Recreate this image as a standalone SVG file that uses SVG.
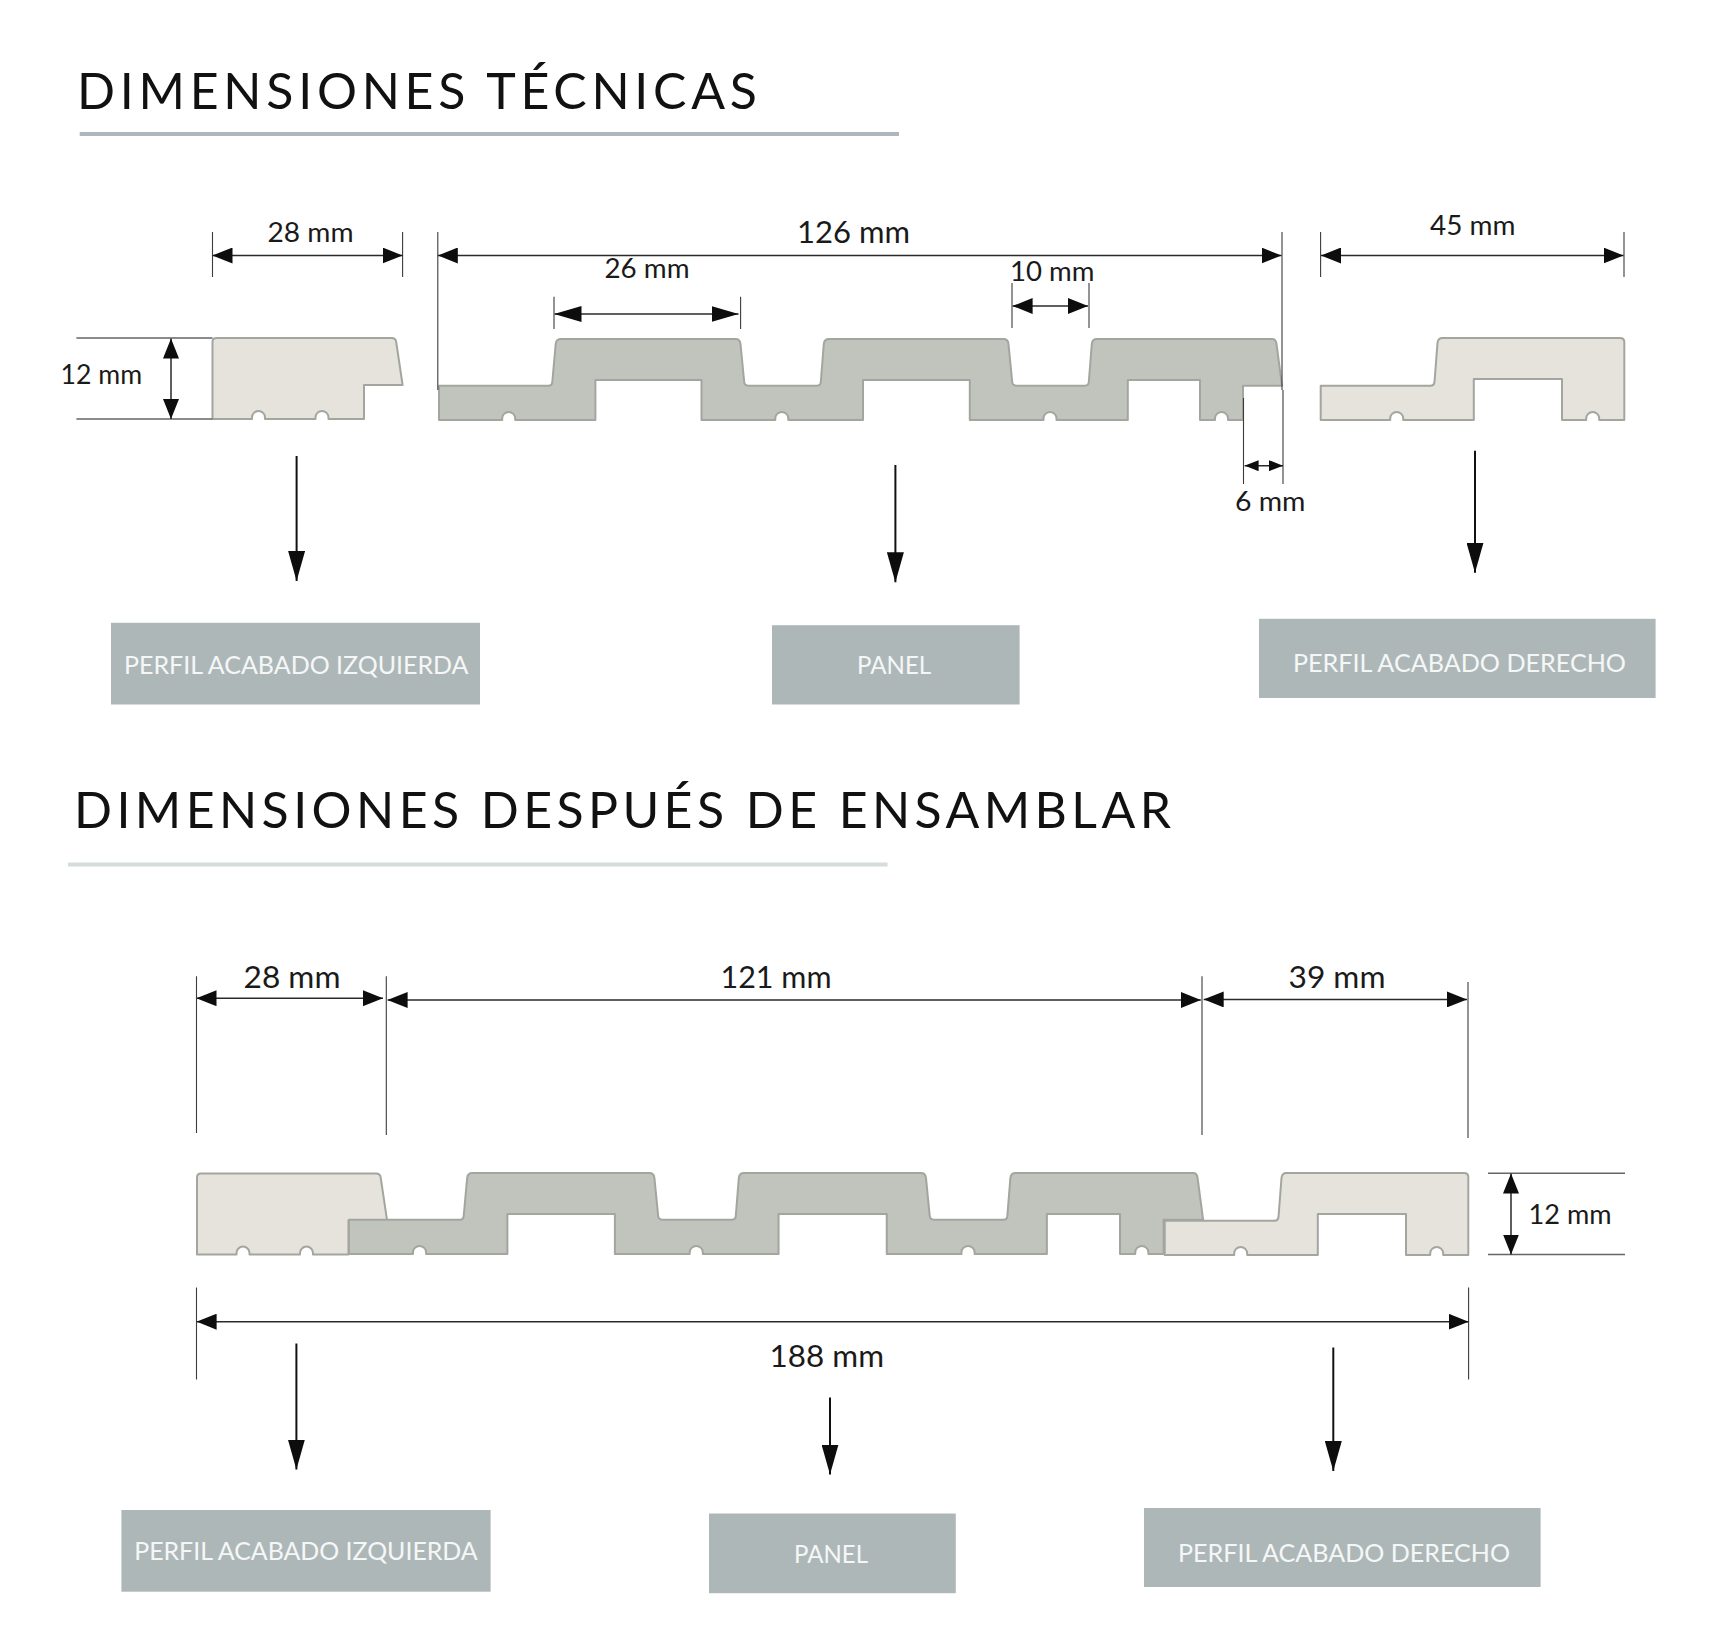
<svg xmlns="http://www.w3.org/2000/svg" xmlns:xlink="http://www.w3.org/1999/xlink" width="1719" height="1636" viewBox="0 0 1719 1636">
<style>
text{font-family:"Lato","Noto Sans",sans-serif;fill:#1a1a1a}
.title{font-size:50px;fill:#111}
.s{font-size:26px}
.l{font-size:30px}
.box{fill:#aeb7b8}
.lab{font-size:25px;fill:#f5f7f7}
.pf{stroke:#a3a69f;stroke-width:2;stroke-linejoin:round}
.light{fill:#e6e3dd}
.grey{fill:#c1c4bd}
.ext{stroke:#3c3c3c;stroke-width:1.1;fill:none}
.hz{stroke:#666;stroke-width:1.5;fill:none}
.dim{stroke:#2a2a2a;stroke-width:1.5;fill:none;marker-start:url(#h);marker-end:url(#h)}
.dimL{stroke:#2a2a2a;stroke-width:1.5;fill:none;marker-start:url(#hl);marker-end:url(#hl)}
.dimS{stroke:#2a2a2a;stroke-width:1.5;fill:none;marker-start:url(#hs);marker-end:url(#hs)}
.down{stroke:#111;stroke-width:2;fill:none;marker-end:url(#hd)}
</style>
<defs>
<marker id="h" markerUnits="userSpaceOnUse" markerWidth="20" markerHeight="16" refX="20" refY="8" orient="auto-start-reverse"><path d="M0 0L20 8L0 16Z" fill="#0d0d0d"/></marker>
<marker id="hl" markerUnits="userSpaceOnUse" markerWidth="27" markerHeight="16" refX="27" refY="8" orient="auto-start-reverse"><path d="M0 0L27 8L0 16Z" fill="#0d0d0d"/></marker>
<marker id="hs" markerUnits="userSpaceOnUse" markerWidth="14" markerHeight="11" refX="14" refY="5.5" orient="auto-start-reverse"><path d="M0 0L14 5.5L0 11Z" fill="#0d0d0d"/></marker>
<marker id="hd" markerUnits="userSpaceOnUse" markerWidth="30" markerHeight="17" refX="30" refY="8.5" orient="auto"><path d="M0 0L30 8.5L0 17Z" fill="#0d0d0d"/></marker>
<path id="pLeft" d="M212.5 419V342Q212.5 338 216.5 338H391.5Q395.7 338 396.2 342L402.6 385H364V419H328.5V417.5A6.5 6.5 0 0 0 315.5 417.5V419H265V417.5A6.5 6.5 0 0 0 252 417.5V419H212.5Z"/>
<path id="pPanel" d="M439 420V385.7H549Q552 385.7 552.3 382L555.7 344Q556.2 339 561 339H735.5Q740 339 740.5 344L744.2 382Q744.5 385.7 748.5 385.7H817Q820.5 385.7 820.8 382L823.8 344Q824.3 339 829 339H1003.5Q1008 339 1008.5 344L1012.2 382Q1012.5 385.7 1016.5 385.7H1085Q1088.5 385.7 1088.8 382L1091.8 344Q1092.3 339 1097 339H1272Q1276 339 1276.5 344L1282 385.7H1243V420H1228V418.5A6.5 6.5 0 0 0 1215 418.5V420H1200V380H1127.8V420H1056.5V418.5A6.5 6.5 0 0 0 1043.5 418.5V420H969.8V380H863V420H788.3V418.5A6.5 6.5 0 0 0 775.3 418.5V420H701.5V380H595.4V420H515.2V418.5A6.5 6.5 0 0 0 502.2 418.5V420H439Z"/>
<path id="pRight" d="M1320.7 420V385.7H1430.5Q1434 385.7 1434.5 382L1437.5 343Q1438 338 1442.5 338H1620Q1624.3 338 1624.3 342V420H1599.2V418.5A6.5 6.5 0 0 0 1586.2 418.5V420H1562V379H1473.8V420H1403.2V418.5A6.5 6.5 0 0 0 1390.2 418.5V420H1320.7Z"/>
</defs>
<rect width="1719" height="1636" fill="#fff"/>

<g id="title-tecnicas">
<text class="title" x="77" y="109" textLength="680">DIMENSIONES TÉCNICAS</text>
<rect x="79.7" y="132" width="819.3" height="4" fill="#b0b7bc"/>
</g>
<g id="title-ensamblar">
<text class="title" x="74" y="828.3" textLength="1097">DIMENSIONES DESPUÉS DE ENSAMBLAR</text>
<rect x="68" y="862.5" width="819.6" height="4" fill="#d4dcdc"/>
</g>

<g id="profile-left-top"><use href="#pLeft" class="pf light"/></g>
<g id="panel-top"><use href="#pPanel" class="pf grey"/></g>
<g id="profile-right-top"><use href="#pRight" class="pf light"/></g>

<g id="profile-left-bottom"><use href="#pLeft" class="pf light" transform="translate(-15.5 835.6)"/></g>
<g id="panel-bottom"><use href="#pPanel" class="pf grey" transform="translate(348.4 834) scale(1.0133 1) translate(-438.5 0)"/></g>
<g id="profile-right-bottom"><use href="#pRight" class="pf light" transform="translate(-156 835)"/></g>

<g id="label-left-top"><rect class="box" x="111" y="622.8" width="369" height="81.7"/><text class="lab" x="124" y="674" textLength="344.5" lengthAdjust="spacingAndGlyphs">PERFIL ACABADO IZQUIERDA</text></g>
<g id="label-panel-top"><rect class="box" x="772" y="625.2" width="247.6" height="79.3"/><text class="lab" x="857" y="674.3" textLength="74.2" lengthAdjust="spacingAndGlyphs">PANEL</text></g>
<g id="label-right-top"><rect class="box" x="1259" y="618.8" width="396.6" height="79.2"/><text class="lab" x="1293" y="672" textLength="333" lengthAdjust="spacingAndGlyphs">PERFIL ACABADO DERECHO</text></g>
<g id="label-left-bottom"><rect class="box" x="121.4" y="1510" width="369.2" height="81.7"/><text class="lab" x="134.2" y="1560" textLength="343.5" lengthAdjust="spacingAndGlyphs">PERFIL ACABADO IZQUIERDA</text></g>
<g id="label-panel-bottom"><rect class="box" x="709" y="1513.5" width="246.8" height="79.7"/><text class="lab" x="794" y="1563" textLength="74" lengthAdjust="spacingAndGlyphs">PANEL</text></g>
<g id="label-right-bottom"><rect class="box" x="1144" y="1508" width="396.6" height="79"/><text class="lab" x="1178" y="1562" textLength="332" lengthAdjust="spacingAndGlyphs">PERFIL ACABADO DERECHO</text></g>

<g id="connectors">
<path class="ext" d="M212.5 232V277M402.6 232V277M437.8 232V390M1282 232V390M1320.6 232V277M1624 232V277M554 296.7V329M740.6 296.7V329M1012 283V328M1089 283V328M1243.5 398V484M1283 390V484"/>
<path class="hz" d="M76.4 338H212.5M76.4 419H212.5M1488 1173.2H1625M1488 1254.5H1625"/>
<path class="ext" d="M196.5 976.2V1133M386.3 976.2V1135M1202 976.2V1135M1468 982V1138M196.5 1287.5V1379.5M1468.6 1287.5V1379.5"/>
<line class="dim" x1="212.5" y1="255.5" x2="402.6" y2="255.5"/>
<line class="dim" x1="437.8" y1="255.5" x2="1281.5" y2="255.5"/>
<line class="dim" x1="1321" y1="255.5" x2="1623.5" y2="255.5"/>
<line class="dimL" x1="554.5" y1="314" x2="738.5" y2="314"/>
<line class="dim" x1="1012.6" y1="306" x2="1088" y2="306"/>
<line class="dimS" x1="1244.6" y1="465.7" x2="1283" y2="465.7"/>
<line class="dim" x1="171" y1="338.5" x2="171" y2="419"/>
<line class="dim" x1="196.5" y1="998.2" x2="383" y2="998.2"/>
<line class="dim" x1="387.6" y1="1000" x2="1200.8" y2="1000"/>
<line class="dim" x1="1203.7" y1="999.4" x2="1467" y2="999.4"/>
<line class="dim" x1="196.6" y1="1321.7" x2="1468.6" y2="1321.7"/>
<line class="dim" x1="1511" y1="1173.5" x2="1511" y2="1254.5"/>
<line class="down" x1="296.6" y1="456" x2="296.6" y2="581"/>
<line class="down" x1="895.4" y1="465" x2="895.4" y2="582.3"/>
<line class="down" x1="1475" y1="450.7" x2="1475" y2="572.7"/>
<line class="down" x1="296.4" y1="1343.5" x2="296.4" y2="1469.5"/>
<line class="down" x1="830" y1="1397.5" x2="830" y2="1474.5"/>
<line class="down" x1="1333.3" y1="1347.5" x2="1333.3" y2="1471"/>
</g>

<g id="dimension-labels">
<text class="s" x="267.5" y="242" textLength="86" lengthAdjust="spacingAndGlyphs">28 mm</text>
<text class="l" x="797" y="243.3" textLength="113" lengthAdjust="spacingAndGlyphs">126 mm</text>
<text class="s" x="604.5" y="278" textLength="85" lengthAdjust="spacingAndGlyphs">26 mm</text>
<text class="s" x="1010" y="280.7" textLength="84.5" lengthAdjust="spacingAndGlyphs">10 mm</text>
<text class="s" x="1430" y="234.5" textLength="85.5" lengthAdjust="spacingAndGlyphs">45 mm</text>
<text class="s" x="60.6" y="384" textLength="81.5" lengthAdjust="spacingAndGlyphs">12 mm</text>
<text class="s" x="1235" y="510.7" textLength="70.5" lengthAdjust="spacingAndGlyphs">6 mm</text>
<text class="l" x="243.5" y="987.5" textLength="97" lengthAdjust="spacingAndGlyphs">28 mm</text>
<text class="l" x="720.5" y="987.5" textLength="111" lengthAdjust="spacingAndGlyphs">121 mm</text>
<text class="l" x="1288.5" y="987.5" textLength="97" lengthAdjust="spacingAndGlyphs">39 mm</text>
<text class="l" x="769.5" y="1367" textLength="114.5" lengthAdjust="spacingAndGlyphs">188 mm</text>
<text class="s" x="1528.5" y="1224" textLength="83" lengthAdjust="spacingAndGlyphs">12 mm</text>
</g>
</svg>
